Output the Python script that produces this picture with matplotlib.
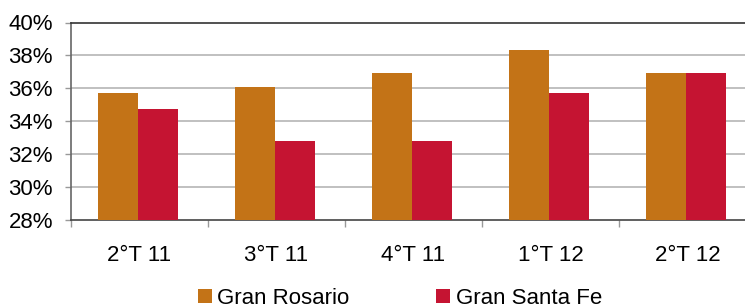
import matplotlib.pyplot as plt
import numpy as np

plt.rcParams["font.family"] = ["Liberation Sans", "DejaVu Sans"]

categories = ["2°T 11", "3°T 11", "4°T 11", "1°T 12", "2°T 12"]
gran_rosario = [35.7, 36.1, 36.95, 38.3, 36.95]
gran_santa_fe = [34.75, 32.8, 32.8, 35.7, 36.95]
series_names = ["Gran Rosario", "Gran Santa Fe"]
yticks = [28, 30, 32, 34, 36, 38, 40]

color_gr = "#C37317"
color_gsf = "#C51432"
fs = 16

fig = plt.figure(figsize=(7.45, 3.06), dpi=100)
ax = fig.add_axes([71 / 745, 86 / 306, 685 / 745, 197.5 / 306])

x = np.arange(len(categories))
w = 0.292
ax.bar(x - w / 2 - 0.01, gran_rosario, width=w, color=color_gr, label=series_names[0], zorder=3)
ax.bar(x + w / 2 - 0.01, gran_santa_fe, width=w, color=color_gsf, label=series_names[1], zorder=3)

ax.set_xlim(-0.5, len(categories) - 0.5)
ax.set_ylim(28, 40)
ax.set_yticks(yticks)
ax.set_yticklabels([f"{v}%" for v in yticks])
ax.set_xticks(x)
ax.set_xticklabels(categories)
ax.set_xticks(np.arange(-0.5, len(categories), 1.0), minor=True)

ax.tick_params(axis="x", which="major", length=0, pad=18, labelsize=fs)
ax.tick_params(axis="x", which="minor", length=5, color="#999999", width=1)
ax.tick_params(axis="y", length=4, color="#999999", width=1, pad=9, labelsize=fs)

for v in yticks[1:-1]:
    ax.axhline(v, color="#BBBBBB", lw=1.3, zorder=1)

ax.spines["left"].set_color("#666666")
ax.spines["bottom"].set_color("#444444")
ax.spines["top"].set_color("#333333")
ax.spines["right"].set_visible(False)
for s in ("left", "bottom", "top"):
    ax.spines[s].set_linewidth(1.2)

fig.legend(loc="lower center", bbox_to_anchor=(0.537, -0.075), ncol=2, frameon=False,
           fontsize=fs, handlelength=0.63, handleheight=0.63, handletextpad=0.25,
           columnspacing=3.9)

fig.savefig("out.png", dpi=100)
